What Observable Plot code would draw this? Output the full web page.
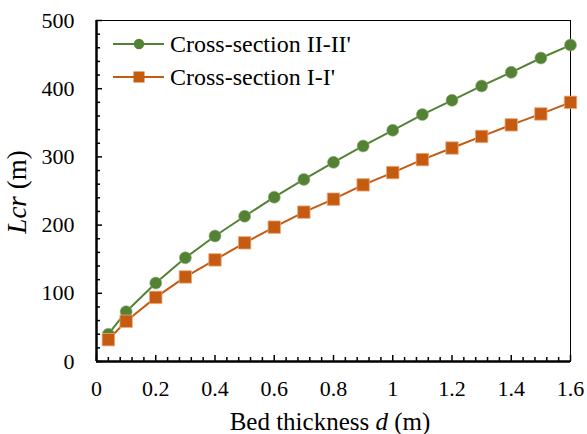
<!DOCTYPE html>
<html>
<head>
<meta charset="utf-8">
<script src="https://cdn.jsdelivr.net/npm/d3@7"></script>
<script src="https://cdn.jsdelivr.net/npm/@observablehq/plot@0.6"></script>
<style>
  body { margin: 0; background: #fff; }
  #chart { width: 587px; height: 434px; }
  #chart svg, #chart svg text { font-family: "Liberation Serif", "Times New Roman", serif; }
</style>
</head>
<body>
<div id="chart"></div>
<script>
// ---- data ----
const thickness = [0.04, 0.1, 0.2, 0.3, 0.4, 0.5, 0.6, 0.7, 0.8, 0.9, 1.0, 1.1, 1.2, 1.3, 1.4, 1.5, 1.6];
const lcrII = [40, 73, 115, 152, 184, 213, 241, 267, 292, 316, 339, 362, 383, 404, 424, 445, 464];
const lcrI  = [32, 59, 94, 124, 149, 174, 197, 219, 238, 259, 277, 296, 313, 330, 347, 363, 380];
const seriesNames = ["Cross-section II-II'", "Cross-section I-I'"];
const xTicks = [0, 0.2, 0.4, 0.6, 0.8, 1, 1.2, 1.4, 1.6];
const xTickLabels = ["0", "0.2", "0.4", "0.6", "0.8", "1", "1.2", "1.4", "1.6"];
const yTicks = [0, 100, 200, 300, 400, 500];
const xMinor = [0.04, 0.08, 0.12, 0.16, 0.24, 0.28, 0.32, 0.36, 0.44, 0.48, 0.52, 0.56, 0.64, 0.68, 0.72, 0.76,
                0.84, 0.88, 0.92, 0.96, 1.04, 1.08, 1.12, 1.16, 1.24, 1.28, 1.32, 1.36, 1.44, 1.48, 1.52, 1.56];
const yMinor = [20, 40, 60, 80, 120, 140, 160, 180, 220, 240, 260, 280, 320, 340, 360, 380, 420, 440, 460, 480];

const colII = "#548235";
const colI = "#C55A11";

const W = 587, H = 434;
const mL = 96, mR = 17, mT = 20, mB = 73;
const pw = W - mL - mR, ph = H - mT - mB;

const rowsII = thickness.map((d, i) => ({d, v: lcrII[i]}));
const rowsI = thickness.map((d, i) => ({d, v: lcrI[i]}));

const plot = Plot.plot({
  width: W, height: H,
  marginLeft: mL, marginRight: mR, marginTop: mT, marginBottom: mB,
  style: {fontFamily: "'Liberation Serif', 'Times New Roman', serif", fontSize: "22px", color: "#000", background: "#fff"},
  x: {domain: [0, 1.6]},
  y: {domain: [0, 500]},
  marks: [
    Plot.frame({stroke: "#000", strokeWidth: 1}),
    Plot.tickX(xMinor, {x: d => d, insetTop: ph - 4, stroke: "#000", strokeWidth: 1.5}),
    Plot.tickX(xTicks, {x: d => d, insetTop: ph - 6, stroke: "#000", strokeWidth: 1.5}),
    Plot.tickY(yMinor, {y: d => d, insetRight: pw - 4, stroke: "#000", strokeWidth: 1.5}),
    Plot.tickY(yTicks, {y: d => d, insetRight: pw - 6, stroke: "#000", strokeWidth: 1.5}),
    Plot.ruleX([0], {stroke: "#000", strokeWidth: 2.5}),
    Plot.ruleY([0], {stroke: "#000", strokeWidth: 2.5}),
    Plot.line(rowsII, {x: "d", y: "v", stroke: colII, strokeWidth: 2}),
    Plot.dot(rowsII, {x: "d", y: "v", r: 6, fill: colII, stroke: "#8fae77", strokeWidth: 0.6}),
    Plot.line(rowsI, {x: "d", y: "v", stroke: colI, strokeWidth: 2}),
    Plot.dot(rowsI, {x: "d", y: "v", r: 7, symbol: "square", fill: colI, stroke: "#eaa77a", strokeWidth: 0.8}),
    Plot.axisX({ticks: xTicks, tickSize: 0, tickPadding: 19, label: null,
      tickFormat: d => xTickLabels[xTicks.indexOf(d)], fontSize: 22}),
    Plot.axisY({ticks: yTicks, tickSize: 0, tickPadding: 22, label: null, fontSize: 22})
  ]
});

document.getElementById("chart").appendChild(plot);

// ---- axis titles & legend (text) ----
const svg = d3.select(plot);
const font = "'Liberation Serif', 'Times New Roman', serif";

const xl = svg.append("text")
  .attr("x", 330).attr("y", 430)
  .attr("text-anchor", "middle")
  .attr("font-family", font).attr("font-size", 25).attr("fill", "#000");
xl.append("tspan").text("Bed thickness ");
xl.append("tspan").attr("font-style", "italic").text("d");
xl.append("tspan").text(" (m)");

const yl = svg.append("text")
  .attr("transform", "translate(26,192) rotate(-90)")
  .attr("text-anchor", "middle")
  .attr("font-family", font).attr("font-size", 27).attr("fill", "#000");
yl.append("tspan").attr("font-style", "italic").text("Lcr");
yl.append("tspan").text(" (m)");

const legend = svg.append("g");
const legendRows = [
  {name: seriesNames[0], color: colII, shape: "circle", y: 44},
  {name: seriesNames[1], color: colI, shape: "square", y: 77}
];
legendRows.forEach(r => {
  legend.append("line").attr("x1", 113).attr("x2", 164).attr("y1", r.y).attr("y2", r.y)
    .attr("stroke", r.color).attr("stroke-width", 2);
  if (r.shape === "circle") {
    legend.append("circle").attr("cx", 139).attr("cy", r.y).attr("r", 5.2).attr("fill", r.color);
  } else {
    legend.append("rect").attr("x", 133.5).attr("y", r.y - 5.5).attr("width", 11).attr("height", 11).attr("fill", r.color);
  }
  legend.append("text").attr("x", 170).attr("y", r.y + 7.5)
    .attr("text-anchor", "start")
    .attr("font-family", font).attr("font-size", 24).attr("fill", "#000").text(r.name);
});
</script>
</body>
</html>
